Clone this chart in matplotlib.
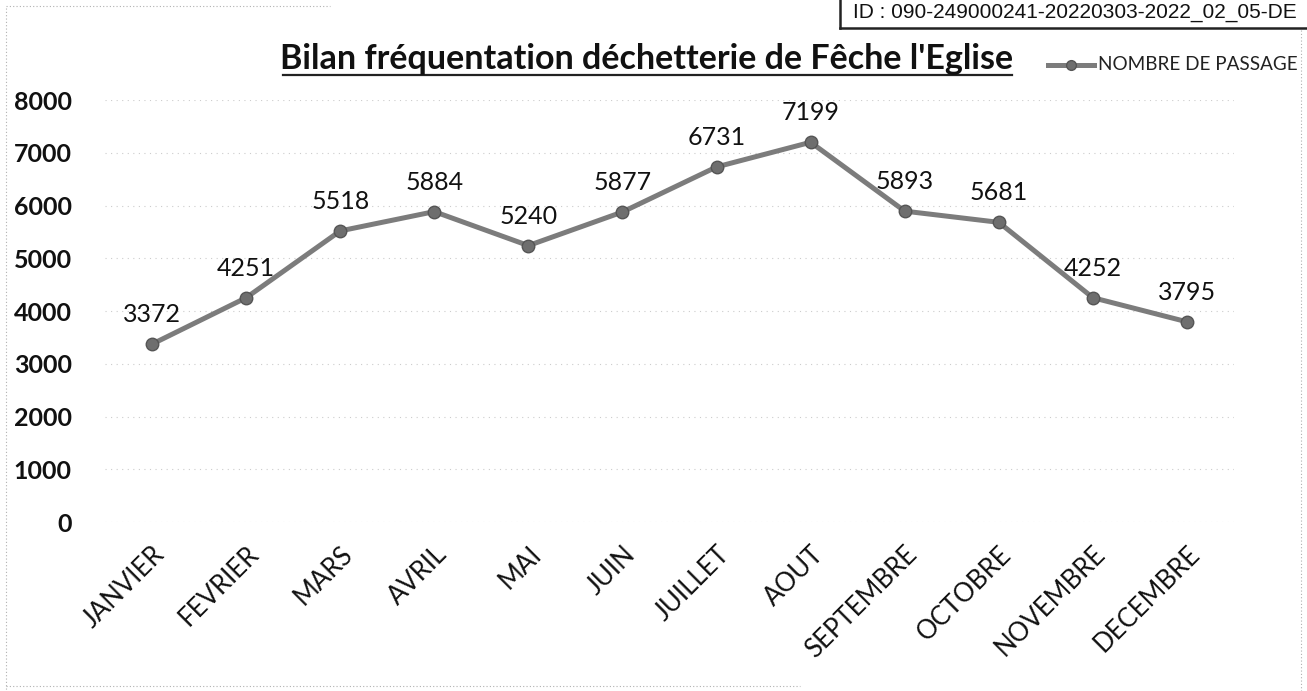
import matplotlib.pyplot as plt
from matplotlib.lines import Line2D

months = ["JANVIER", "FEVRIER", "MARS", "AVRIL", "MAI", "JUIN", "JUILLET",
          "AOUT", "SEPTEMBRE", "OCTOBRE", "NOVEMBRE", "DECEMBRE"]
passages = [3372, 4251, 5518, 5884, 5240, 5877, 6731, 7199, 5893, 5681, 4252, 3795]
y_ticks = [0, 1000, 2000, 3000, 4000, 5000, 6000, 7000, 8000]

title = "Bilan fréquentation déchetterie de Fêche l'Eglise"
series_name = "NOMBRE DE PASSAGE"
doc_id = "ID : 090-249000241-20220303-2022_02_05-DE"

W, H = 1307, 691
fig = plt.figure(figsize=(W / 100, H / 100), dpi=100)
fig.patch.set_facecolor("white")

# plot area in pixels
left, right, top, bottom = 105, 1234, 100, 522
ax = fig.add_axes([left / W, 1 - bottom / H, (right - left) / W, (bottom - top) / H])

x = list(range(len(months)))
ax.plot(x, passages, color="#7c7c7c", lw=3.6, marker="o", ms=9,
        markerfacecolor="#6e6e6e", markeredgecolor="#555555", markeredgewidth=1,
        solid_capstyle="round", zorder=3)

for i, v in zip(x, passages):
    ax.annotate(str(v), (i, v), xytext=(0, 13), textcoords="offset points",
                ha="center", va="bottom", fontsize=18, family="Lato", color="#111111")

ax.set_xlim(-0.5, len(months) - 0.5)
ax.set_ylim(0, 8000)
ax.set_yticks(y_ticks)
ax.set_yticklabels([str(t) for t in y_ticks], fontsize=18, family="Lato",
                   fontweight="bold", color="#111111")
ax.set_xticks(x)
ax.set_xticklabels(months, rotation=45, ha="right", rotation_mode="anchor",
                   fontsize=18.5, family="Lato", color="#111111")
ax.tick_params(axis="y", length=0, pad=24)
ax.tick_params(axis="x", length=0, pad=14)
for s in ax.spines.values():
    s.set_visible(False)
ax.grid(axis="y", color="#cccccc", lw=0.8, linestyle=(0, (1, 4)))
ax.set_axisbelow(True)

# title, underlined
fig.text(647 / W, 1 - 59 / H, title, ha="center", va="center", fontsize=24.5,
         family="Lato", fontweight="bold", color="#111111")
fig.add_artist(Line2D([283 / W, 1012 / W], [1 - 75 / H, 1 - 75 / H],
                      color="#222222", lw=1.6))

# legend
fig.add_artist(Line2D([1048 / W, 1094 / W], [1 - 65 / H, 1 - 65 / H],
                      color="#7c7c7c", lw=3.6))
fig.add_artist(Line2D([1071 / W], [1 - 65 / H], color="#6e6e6e", marker="o",
                      ms=7, markeredgecolor="#555555", lw=0))
fig.text(1098 / W, 1 - 65 / H, series_name, ha="left", va="center",
         fontsize=13.6, family="Lato", color="#222222")

# ID stamp box
fig.text(853 / W, 1 - 13 / H, doc_id, ha="left", va="center", fontsize=15,
         family="Liberation Sans", color="#111111")
fig.add_artist(Line2D([840 / W, 840 / W], [1.0, 1 - 28 / H], color="#222222", lw=1.8))
fig.add_artist(Line2D([840 / W, 1.0], [1 - 28 / H, 1 - 28 / H], color="#222222", lw=1.8))

# faint outer chart border
border = dict(color="#b0b0b0", lw=0.8, linestyle=(0, (1, 2)))
fig.add_artist(Line2D([6 / W, 6 / W], [1 - 8 / H, 0], **border))
fig.add_artist(Line2D([1301 / W, 1301 / W], [1 - 30 / H, 0], **border))
fig.add_artist(Line2D([6 / W, 330 / W], [1 - 6 / H, 1 - 6 / H], **border))
fig.add_artist(Line2D([6 / W, 800 / W], [1 - 686 / H, 1 - 686 / H], **border))

fig.savefig("out.png", dpi=100)
